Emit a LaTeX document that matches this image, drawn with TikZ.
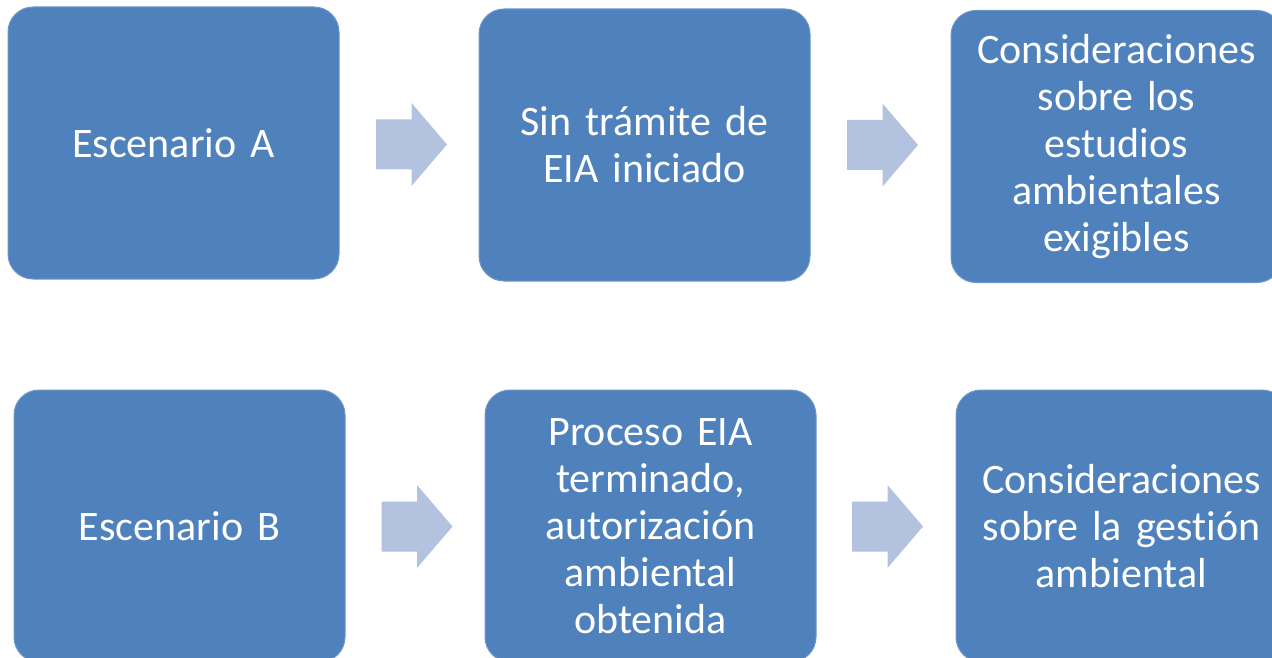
\documentclass[tikz,border=0pt]{standalone}
\usepackage{fontspec}
\setmainfont{Carlito}[Ligatures=NoCommon, WordSpace=0.8]
\definecolor{boxblue}{RGB}{79,129,189}
\definecolor{boxedge}{RGB}{110,152,204}
\definecolor{arrowblue}{RGB}{179,194,223}
\tikzset{
  stepbox/.style={draw=boxedge, line width=1pt, fill=boxblue, rounded corners=25pt,
    minimum width=331pt, minimum height=272pt, inner sep=0pt,
    text=white, text width=320pt, align=center,
    font=\fontsize{42}{47}\selectfont},
  barrow/.pic={\fill[arrowblue] (-35.5,-25) -- (0,-25) -- (0,-41.5) -- (35.5,0) -- (0,41.5) -- (0,25) -- (-35.5,25) -- cycle;}
}
\begin{document}
\begin{tikzpicture}[x=1pt,y=-1pt]
\clip (0,0) rectangle (1272,658);
\fill[white] (0,0) rectangle (1272,658);
\node[stepbox] (a1) at (173.5,143) {Escenario A};
\node[stepbox] (a2) at (644.5,145) {Sin trámite de\\EIA iniciado};
\node[stepbox] (a3) at (1116.5,146.5) {Consideraciones\\sobre los\\estudios\\ambientales\\exigibles};
\node[stepbox] (b1) at (179.5,526) {Escenario B};
\node[stepbox] (b2) at (650.5,526) {Proceso EIA\\terminado,\\autorización\\ambiental\\obtenida};
\node[stepbox] (b3) at (1121.5,526) {Consideraciones\\sobre la gestión\\ambiental};
\pic at (411.5,144.5) {barrow};
\pic at (882.5,145) {barrow};
\pic at (417,526.5) {barrow};
\pic at (887.5,526.5) {barrow};
\end{tikzpicture}
\end{document}
